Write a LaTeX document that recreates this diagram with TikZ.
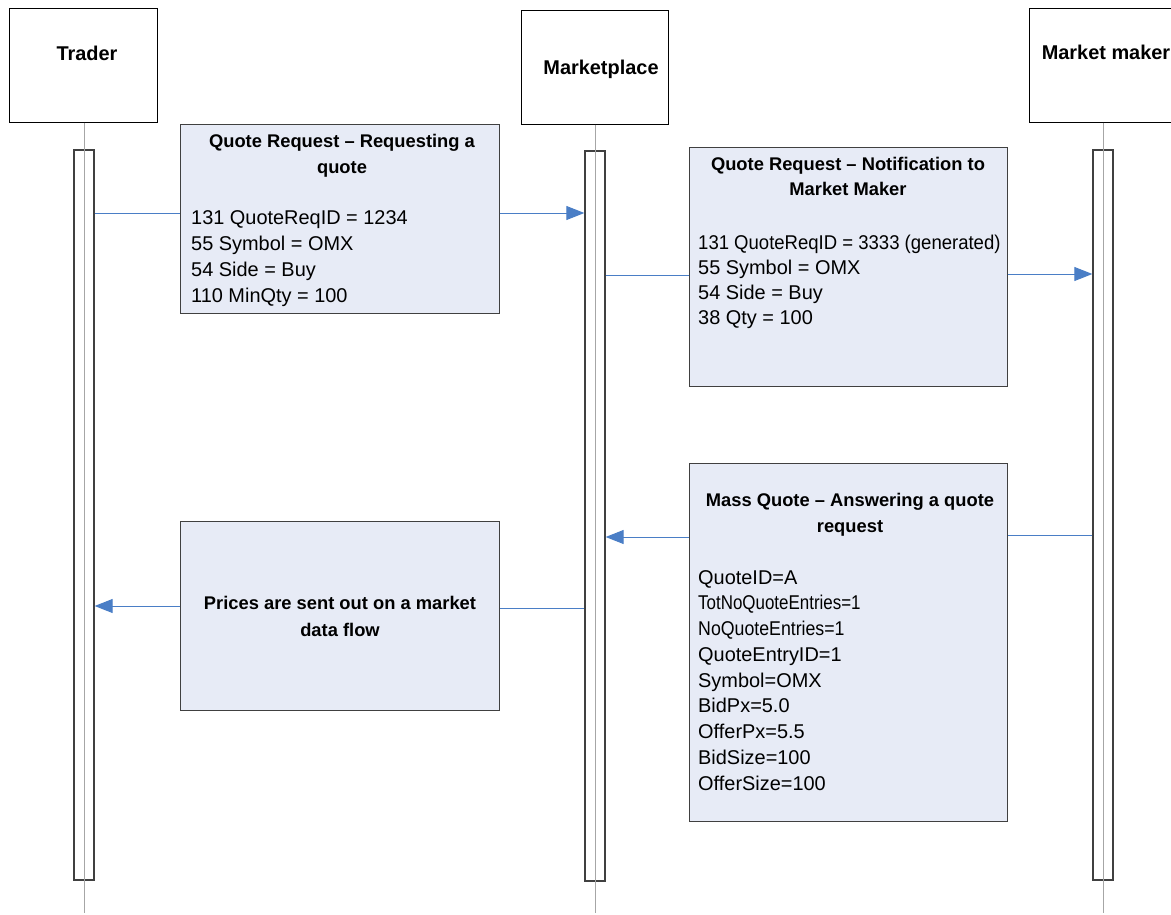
\documentclass[tikz,border=0pt]{standalone}
\usepackage{fontspec}
\setmainfont{Liberation Sans}
\usetikzlibrary{arrows.meta}
\definecolor{msgblue}{HTML}{4A7EC6}
\definecolor{notefill}{HTML}{E7EBF6}
\definecolor{notedraw}{HTML}{404040}
\definecolor{lifegray}{HTML}{A6A6A6}
\begin{document}
\begin{tikzpicture}[x=1bp,y=-1bp,
  actor/.style={draw=black, line width=1bp, fill=white, minimum width=147bp, minimum height=114bp, inner sep=0},
  actorname/.style={font=\fontsize{20}{24}\selectfont\bfseries, anchor=base, inner sep=0},
  activation/.style={draw=notedraw, line width=1.3bp, fill=white, minimum width=20bp, minimum height=730bp, inner sep=0},
  lifeline/.style={draw=lifegray, line width=1bp},
  note/.style={draw=notedraw, line width=1bp, fill=notefill, minimum width=318bp, inner sep=0},
  notetitle/.style={font=\fontsize{18.4}{26}\selectfont\bfseries, anchor=base, inner sep=0},
  notebody/.style={font=\fontsize{20}{26}\selectfont, anchor=base west, inner sep=0},
  msg/.style={draw=msgblue, line width=1bp},
  arrowmsg/.style={msg, -{Triangle[length=18bp,width=14bp]}}
]
\useasboundingbox (0,0) rectangle (1171,915);
\clip (0,0) rectangle (1171,915);

% participants
\node[actor] (trader) at (83.5,65) {};
\node[actor] (market) at (594.5,67) {};
\node[actor] (maker) at (1102.5,65) {};
\node[actorname] (traderlbl) at (87,60) {Trader};
\node[actorname] (marketlbl) at (601,74) {Marketplace};
\node[actorname] (makerlbl) at (1106,59) {Market maker};

% activation bars
\node[activation] (tbar) at (84,515) {};
\node[activation] (mbar) at (595,516) {};
\node[activation] (kbar) at (1103,515) {};

% lifelines
\coordinate (tend) at (84,913);
\coordinate (mend) at (595,913);
\coordinate (kend) at (1103,913);
\draw[lifeline] (trader.south -| tend) -- (tend);
\draw[lifeline] (market.south -| mend) -- (mend);
\draw[lifeline] (maker.south -| kend) -- (kend);

% notes
\node[note, minimum height=189bp] (q1) at (340,218.5) {};
\node[note, minimum height=239bp] (q2) at (848,266.5) {};
\node[note, minimum height=358bp] (q3) at (848,642) {};
\node[note, minimum height=189bp] (q4) at (340,615.5) {};

% note texts
\node[notetitle] (q1t1) at (342,147) {Quote Request – Requesting a};
\node[notetitle] (q1t2) at (342,173) {quote};
\foreach \t [count=\i from 0] in {131 QuoteReqID = 1234, 55 Symbol = OMX, 54 Side = Buy, 110 MinQty = 100}
  \node[notebody] (q1b\i) at (191,{224+26*\i}) {\t};

\node[notetitle] (q2t1) at (848,170) {Quote Request – Notification to};
\node[notetitle] (q2t2) at (848,195) {Market Maker};
\foreach \t [count=\i from 0] in {{\scalebox{0.93}[1]{131 QuoteReqID = 3333 (generated)}}, 55 Symbol = OMX, 54 Side = Buy, 38 Qty = 100}
  \node[notebody] (q2b\i) at (698,{249+25.33*\i}) {\t};

\node[notetitle] (q3t1) at (850,506) {Mass Quote – Answering a quote};
\node[notetitle] (q3t2) at (850,532) {request};
\foreach \t [count=\i from 0] in {QuoteID=A, {\scalebox{0.85}[1]{TotNoQuoteEntries=1}}, {\scalebox{0.89}[1]{NoQuoteEntries=1}}, QuoteEntryID=1, Symbol=OMX, BidPx=5.0, OfferPx=5.5, BidSize=100, OfferSize=100}
  \node[notebody] (q3b\i) at (698,{584+25.75*\i}) {\t};

\node[notetitle] (q4t1) at (340,609) {Prices are sent out on a market};
\node[notetitle] (q4t2) at (340,636) {data flow};

% messages
\draw[msg] (tbar.east |- 0,213) -- (q1.west |- 0,213);
\draw[arrowmsg] (q1.east |- 0,213) -- (mbar.west |- 0,213);

\draw[msg] (mbar.east |- 0,275) -- (q2.west |- 0,275);
\draw[arrowmsg] (q2.east |- 0,274) -- (kbar.west |- 0,274);

\draw[msg] (kbar.west |- 0,535) -- (q3.east |- 0,535);
\draw[arrowmsg] (q3.west |- 0,537) -- (mbar.east |- 0,537);

\draw[msg] (mbar.west |- 0,608) -- (q4.east |- 0,608);
\draw[arrowmsg] (q4.west |- 0,606) -- (tbar.east |- 0,606);
\end{tikzpicture}
\end{document}
